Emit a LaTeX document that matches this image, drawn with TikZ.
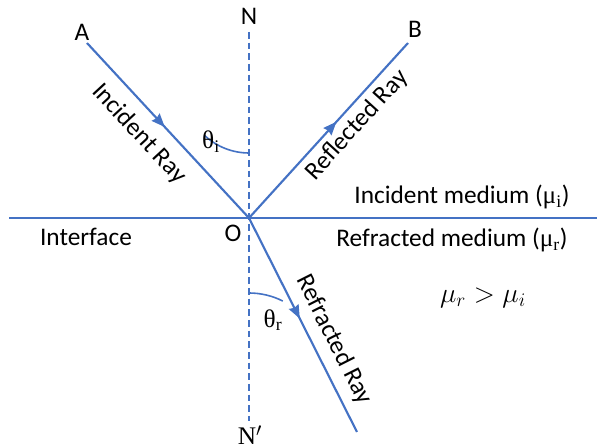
\documentclass[tikz,border=0pt]{standalone}
\usepackage{fontspec}
\setmainfont{Carlito}
\newfontfamily\seriffont{Liberation Serif}
\usetikzlibrary{arrows.meta,decorations.markings}
\definecolor{rayblue}{RGB}{68,114,196}
\newcommand{\upsym}[2]{{\seriffont #1}\textsubscript{\seriffont #2}}
\tikzset{
  ray/.style={draw=rayblue,line width=1.6pt},
  normalline/.style={draw=rayblue,line width=1.6pt,dash pattern=on 5pt off 3pt},
  midarrow/.style={postaction={decorate},decoration={markings,mark=at position #1 with {\arrow{Stealth[length=10pt,width=8pt,inset=1pt]}}}},
  lbl/.style={font=\fontsize{19}{21}\selectfont,inner sep=0pt},
  anglearc/.style={draw=rayblue,line width=1.2pt}
}
\begin{document}
\begin{tikzpicture}[x=0.75pt,y=-0.75pt]
\useasboundingbox (0,0) rectangle (597,448);
\coordinate (O) at (249,218);
\coordinate (Aend) at (87,43);
\coordinate (Bend) at (408,43);
\coordinate (Rend) at (357,432);
\coordinate (Ntop) at (249,32);
\coordinate (Nbot) at (249,421);
\coordinate (Ileft) at (9,218);
\coordinate (Iright) at (597,218);
% lines
\draw[ray] (Ileft) -- (Iright);
\draw[normalline] (Ntop) -- (Nbot);
\draw[ray,midarrow=0.48] (Aend) -- (O);
\draw[ray,midarrow=0.55] (O) -- (Bend);
\draw[ray,midarrow=0.47] (O) -- (Rend);
% angle arcs
\draw[anglearc] (249,153) arc[start angle=90,end angle=132.8,radius=65];
\draw[anglearc] (249,293) arc[start angle=270,end angle=296.8,radius=75];
% labels
\node[lbl] (A) at (82,32) {A};
\node[lbl] (B) at (415,29) {B};
\node[lbl] (N) at (249,16) {N};
\node[lbl,font=\seriffont\fontsize{19}{21}\selectfont] (Np) at (250,435) {N$'$};
\node[lbl] (Olbl) at (233,233) {O};
\node[lbl] (ti) at (211,142) {\upsym{θ}{i}};
\node[lbl] (tr) at (273,320) {\upsym{θ}{r}};
\node[lbl,rotate=-47.2] (inc) at (139,134) {Incident Ray};
\node[lbl,rotate=47.7] (refl) at (357,125) {Reflected Ray};
\node[lbl,rotate=-63.2] (refr) at (334,340) {Refracted Ray};
\node[lbl] (im) at (462,197) {Incident medium (\upsym{μ}{i})};
\node[lbl] (rm) at (452,240) {Refracted medium (\upsym{μ}{r})};
\node[lbl,font=\fontsize{21}{23}\selectfont] (ineq) at (483,298) {$\mu_r > \mu_i$};
\node[lbl] (intf) at (86,237) {Interface};
\end{tikzpicture}
\end{document}
